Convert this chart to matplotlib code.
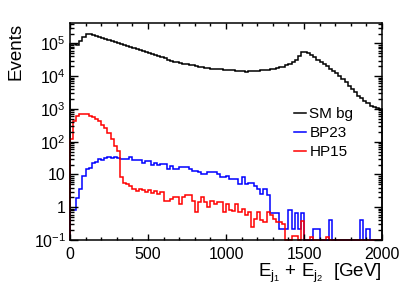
import numpy as np
import matplotlib
matplotlib.use('Agg')
import matplotlib.pyplot as plt
from matplotlib.ticker import MultipleLocator, LogLocator, NullFormatter

plt.rcParams['font.family'] = ['Liberation Sans', 'DejaVu Sans']
plt.rcParams['mathtext.fontset'] = 'custom'
plt.rcParams['mathtext.rm'] = 'Liberation Sans'
plt.rcParams['mathtext.it'] = 'Liberation Sans:italic'

# 100 bins of 20 GeV from 0 to 2000
bin_edges = np.arange(0, 2001, 20)

sm_bg = [
    9.6e4, 9.6e4, 8.7e4, 1.15e5, 1.6e5, 2.0e5, 1.9e5, 1.82e5, 1.74e5, 1.62e5,
    1.51e5, 1.38e5, 1.29e5, 1.2e5, 1.12e5, 1.05e5, 9.5e4, 8.9e4, 8.3e4, 7.8e4,
    7.2e4, 6.9e4, 6.3e4, 5.9e4, 5.5e4, 5.1e4, 4.7e4, 4.4e4, 4.1e4, 3.8e4,
    3.5e4, 3.2e4, 3.0e4, 2.8e4, 2.65e4, 2.5e4, 2.4e4, 2.3e4, 2.24e4, 2.14e4,
    2.04e4, 1.95e4, 1.86e4, 1.82e4, 1.78e4, 1.7e4, 1.66e4, 1.66e4, 1.62e4, 1.58e4,
    1.55e4, 1.55e4, 1.51e4, 1.48e4, 1.45e4, 1.41e4, 1.32e4, 1.41e4, 1.45e4, 1.45e4,
    1.48e4, 1.51e4, 1.55e4, 1.58e4, 1.62e4, 1.7e4, 1.78e4, 1.86e4, 1.95e4, 2.14e4,
    2.34e4, 2.75e4, 3.2e4, 4.2e4, 5.4e4, 5.4e4, 5.1e4, 4.5e4, 3.8e4, 3.2e4,
    2.75e4, 2.34e4, 2.0e4, 1.7e4, 1.45e4, 1.23e4, 1.0e4, 8.1e3, 6.6e3, 5.0e3,
    4.2e3, 3.2e3, 2.45e3, 2.1e3, 1.74e3, 1.48e3, 1.26e3, 1.15e3, 1.07e3, 1.0e3,
]

bp23 = [
    0.8, 0.85, 1.9, 3.5, 9.0, 15, 16, 22, 24, 30,
    28, 32, 33, 31, 34, 32, 30, 30, 30, 33,
    28, 28, 28, 23, 25, 25, 19, 23, 19, 21,
    21, 15, 18.7, 14.8, 14.8, 16.5, 16.5, 16.5, 14.8, 13.2,
    13.2, 11.7, 10.5, 10.5, 11.7, 11.7, 11.7, 10.5, 8.3, 8.3,
    9.3, 7.4, 7.4, 7.4, 5.2, 8.3, 5.2, 5.5, 5.5, 4.6,
    3.7, 2.6, 3.7, 2.4, 0.65, 0.65, 0.65, 0.21, 0.21, 0.21,
    0.85, 0.21, 0.65, 0.21, 0.65, 0, 0, 0, 0.21, 0.21,
    0, 0, 0, 0.42, 0, 0, 0, 0, 0, 0,
    0, 0, 0, 0.42, 0, 0.21, 0, 0, 0, 0,
]

hp15 = [
    120, 440, 620, 700, 720, 680, 620, 550, 490, 420,
    330, 270, 190, 120, 76, 53, 8.5, 5.5, 5.0, 4.6,
    3.5, 3.2, 3.7, 3.4, 3.0, 3.3, 2.7, 3.2, 2.5, 3.0,
    1.6, 1.5, 1.8, 2.0, 2.0, 1.3, 2.0, 2.3, 2.3, 1.6,
    0.72, 1.45, 2.0, 1.45, 1.0, 1.6, 1.3, 1.45, 1.45, 0.72,
    1.3, 0.8, 0.75, 1.25, 0.7, 0.9, 0.6, 0.7, 0.25, 0.45,
    0.72, 0.4, 0.35, 0.72, 0.6, 0.45, 0.35, 0.35, 0.3, 0,
    0, 0.13, 0.13, 0, 0.38, 0, 0, 0.12, 0, 0,
    0, 0, 0.12, 0, 0, 0, 0, 0, 0, 0,
    0, 0, 0, 0, 0, 0, 0, 0, 0, 0,
]

ymin, ymax = 0.1, 4.2e5

fig = plt.figure(figsize=(4.15, 2.94), dpi=100)
ax = fig.add_axes([70/415, 1-240/294, 312/415, 217/294])

for vals, col, lab in [(sm_bg, 'black', 'SM bg'), (bp23, 'blue', 'BP23'), (hp15, 'red', 'HP15')]:
    ax.stairs(np.maximum(vals, ymin), bin_edges, baseline=ymin, color=col, lw=1.1,
              label=lab, clip_on=False)

ax.set_yscale('log')
ax.set_xlim(0, 2000)
ax.set_ylim(ymin, ymax)

ax.xaxis.set_major_locator(MultipleLocator(500))
ax.xaxis.set_minor_locator(MultipleLocator(100))
ax.set_yticks([0.1, 1, 10, 100, 1e3, 1e4, 1e5])
ax.set_yticklabels(['$10^{-1}$', '1', '10', '$10^{2}$', '$10^{3}$', '$10^{4}$', '$10^{5}$'])
ax.yaxis.set_minor_locator(LogLocator(subs=np.arange(2, 10), numticks=20))
ax.yaxis.set_minor_formatter(NullFormatter())

ax.tick_params(which='both', direction='in', top=True, right=True, labelsize=11.5, width=1)
ax.tick_params(axis='x', which='major', length=4.5, pad=5)
ax.tick_params(axis='x', which='minor', length=2.3)
ax.tick_params(axis='y', which='major', length=5.5, pad=3)
ax.tick_params(axis='y', which='minor', length=2.8)
for s in ax.spines.values():
    s.set_linewidth(1.1)

ax.set_ylabel('Events', fontsize=13.5, loc='top')
ax.yaxis.set_label_coords(-0.145, 1.0)
ax.set_xlabel(r'E$_{\mathrm{j}_{1}}$ + E$_{\mathrm{j}_{2}}$  [GeV]', fontsize=13.5, loc='right')
ax.xaxis.set_label_coords(1.0, -0.1)

ax.legend(loc='upper left', bbox_to_anchor=(0.718, 0.612), frameon=False, fontsize=11,
          handlelength=0.8, handletextpad=0.2, labelspacing=0.32, borderpad=0, borderaxespad=0)

fig.savefig('out.png', dpi=100)
